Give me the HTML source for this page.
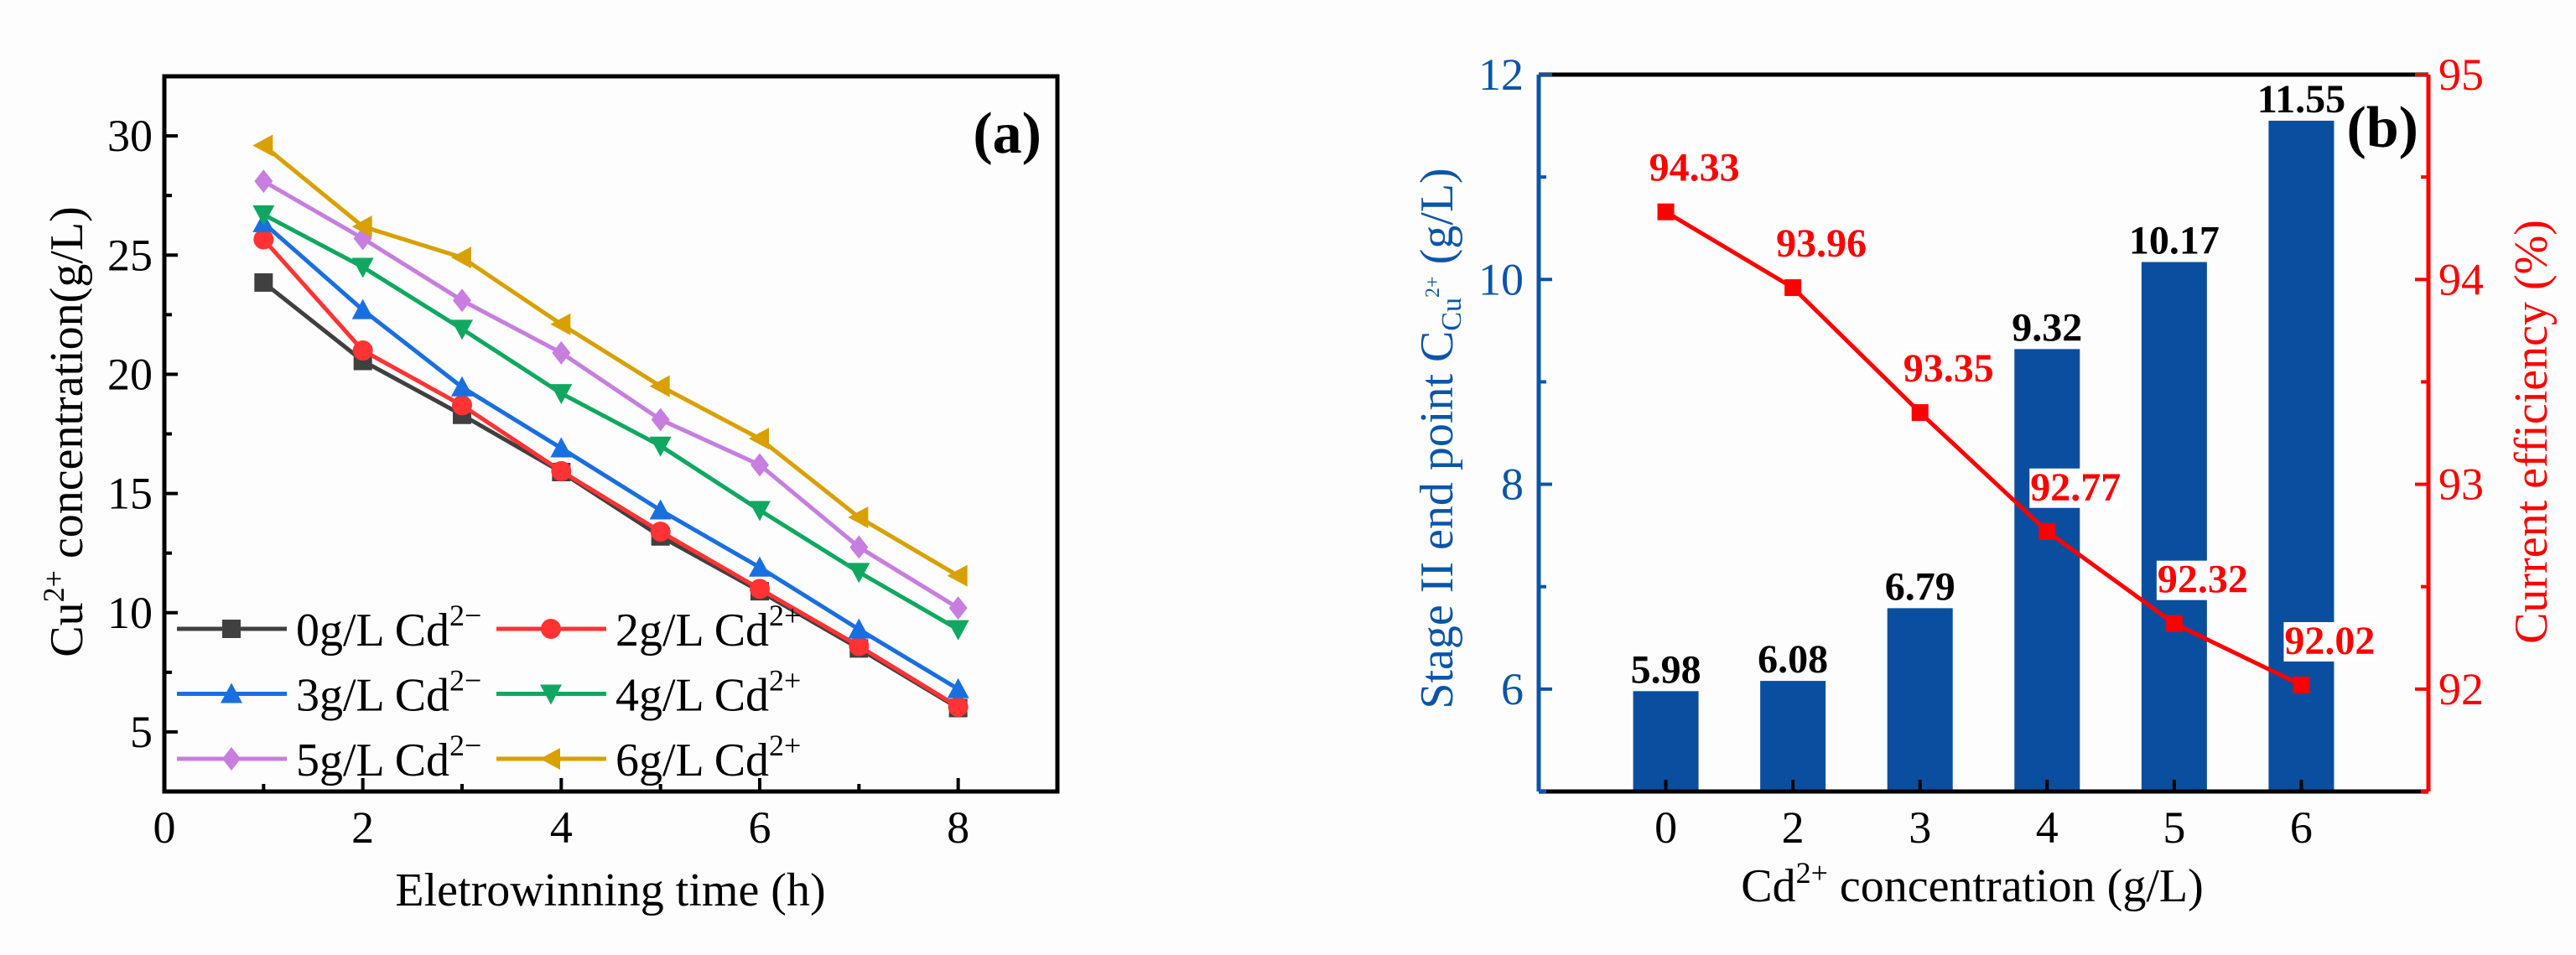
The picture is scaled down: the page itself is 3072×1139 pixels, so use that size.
<!DOCTYPE html>
<html><head><meta charset="utf-8"><style>
html,body{margin:0;padding:0;background:#fdfdfd;}
svg{display:block;font-family:"Liberation Serif",serif;}
</style></head><body>
<svg id="fig" width="3072" height="1139" viewBox="0 0 3072 1139" xmlns="http://www.w3.org/2000/svg">
<rect width="3072" height="1139" fill="#fdfdfd"/>
<g id="A"></g>
<g id="B"></g>
</svg>
<script>
// ---- Chart A data ----
const timesA = [1,2,3,4,5,6,7,8];
const s0 = [23.85,20.56,18.3,15.9,13.2,10.9,8.5,6.0];
const s2 = [25.66,21.0,18.7,15.94,13.4,11.0,8.6,6.05];
const s3 = [26.35,22.7,19.46,16.9,14.3,11.9,9.3,6.8];
const s4 = [26.7,24.5,21.9,19.2,17.0,14.3,11.7,9.3];
const s5 = [28.1,25.7,23.1,20.9,18.1,16.2,12.75,10.2];
const s6 = [29.6,26.2,24.9,22.1,19.5,17.3,14.0,11.55];
const xTicksA = [0,2,4,6,8];
const yTicksA = [5,10,15,20,25,30];
// ---- Chart B data ----
const catsB = ['0','2','3','4','5','6'];
const barsB = [5.98,6.08,6.79,9.32,10.17,11.55];
const barLabelsB = ['5.98','6.08','6.79','9.32','10.17','11.55'];
const effB = [94.33,93.96,93.35,92.77,92.32,92.02];
const effLabelsB = ['94.33','93.96','93.35','92.77','92.32','92.02'];
const yTicksBL = [6,8,10,12];
const yTicksBR = [92,93,94,95];

const NS='http://www.w3.org/2000/svg';
function mk(parent,tag,attrs,text){const e=document.createElementNS(NS,tag);for(const k in attrs)e.setAttribute(k,attrs[k]);if(text!==undefined)e.textContent=text;parent.appendChild(e);return e;}

// ===== Chart A =====
const A=document.getElementById('A');
const aL=196,aR=1261,aT=91,aB=944;
const ax=v=>aL+(v-0)/(9-0)*(aR-aL);
const ay=v=>aB-(v-2.5)/(32.5-2.5)*(aB-aT);
// ticks
for(let v=1;v<=8;v++){const major=v%2===0;const t=mk(A,'line',{x1:ax(v),x2:ax(v),y1:aB,y2:aB-(major?16:9),stroke:'#000','stroke-width':4});

}
for(let v=5;v<=32.5;v+=2.5){const major=v%5===0;const t=mk(A,'line',{x1:aL,x2:aL+(major?16:9),y1:ay(v),y2:ay(v),stroke:'#000','stroke-width':4});

}
xTicksA.forEach(v=>{const t=mk(A,'text',{x:ax(v),y:1005,'font-size':54,'text-anchor':'middle'},String(v));

});
yTicksA.forEach(v=>{const t=mk(A,'text',{x:aL-14,y:ay(v)+18,'font-size':54,'text-anchor':'end'},String(v));

});
const seriesA=[
 {d:s0,c:'#404040',m:'sq',lab:'0g/L Cd',sup:'2−'},
 {d:s2,c:'#ff3333',m:'ci',lab:'2g/L Cd',sup:'2+'},
 {d:s3,c:'#1a6fe0',m:'tu',lab:'3g/L Cd',sup:'2−'},
 {d:s4,c:'#10a860',m:'td',lab:'4g/L Cd',sup:'2+'},
 {d:s5,c:'#c77ee0',m:'di',lab:'5g/L Cd',sup:'2−'},
 {d:s6,c:'#d9a000',m:'tl',lab:'6g/L Cd',sup:'2+'}];
function marker(g,type,x,y,c){
 const r=11;let e;
 if(type==='sq')e=mk(g,'rect',{x:x-r,y:y-r,width:2*r,height:2*r,fill:c});
 else if(type==='ci')e=mk(g,'circle',{cx:x,cy:y,r:r+1,fill:c});
 else if(type==='tu')e=mk(g,'polygon',{points:`${x},${y-r-2} ${x-r-2},${y+r} ${x+r+2},${y+r}`,fill:c});
 else if(type==='td')e=mk(g,'polygon',{points:`${x},${y+r+2} ${x-r-2},${y-r} ${x+r+2},${y-r}`,fill:c});
 else if(type==='di')e=mk(g,'polygon',{points:`${x},${y-r-3} ${x-r},${y} ${x},${y+r+3} ${x+r},${y}`,fill:c});
 else e=mk(g,'polygon',{points:`${x-r-2},${y} ${x+r},${y-r-2} ${x+r},${y+r+2}`,fill:c});
 
 
}
seriesA.forEach((s,i)=>{
 const g=mk(A,'g',{});
 
 
 const pl=mk(g,'polyline',{points:s.d.map((v,j)=>ax(timesA[j])+','+ay(v)).join(' '),fill:'none',stroke:s.c,'stroke-width':5});
 
 
 s.d.forEach((v,j)=>marker(g,s.m,ax(timesA[j]),ay(v),s.c));
 // legend
 const col=i%2,row=Math.floor(i/2);
 const lx=col?592:211, ly=750+row*77.5;
 const lg=mk(A,'g',{});
 
 
 mk(lg,'line',{x1:lx,x2:lx+131,y1:ly,y2:ly,stroke:s.c,'stroke-width':5});
 marker(lg,s.m,lx+65,ly,s.c);
 const t=mk(lg,'text',{x:lx+142,y:ly+20,'font-size':56});
 t.textContent=s.lab;
 mk(t,'tspan',{dy:-24,'font-size':36},s.sup);
});
mk(A,'rect',{x:aL,y:aT,width:aR-aL,height:aB-aT,fill:'none',stroke:'#000','stroke-width':5,});
mk(A,'text',{x:1242,y:182,'font-size':70,'font-weight':'bold','text-anchor':'end',},'(a)');
mk(A,'text',{x:728,y:1080,'font-size':56,'text-anchor':'middle',},'Eletrowinning time (h)');
const yt=mk(A,'text',{x:0,y:0,'font-size':56,'text-anchor':'middle',transform:'translate(98,515) rotate(-90)',});
yt.textContent='Cu';mk(yt,'tspan',{dy:-22,'font-size':36},'2+');mk(yt,'tspan',{dy:22},' concentration(g/L)');

// ===== Chart B =====
const B=document.getElementById('B');
const bL=1835,bR=2896,bT=89,bB=944;
const bx=i=>bL+(i+1)/7*(bR-bL);
const byL=v=>bB-(v-5)/(12-5)*(bB-bT);
const byR=v=>bB-(v-91.5)/(95-91.5)*(bB-bT);
const blue='#0a4f9f', axBlue='#0b55a8', red='#ff0000';
barsB.forEach((v,i)=>{
 const r=mk(B,'rect',{x:bx(i)-39,y:byL(v),width:78,height:bB-byL(v),fill:blue});
 
 
 const t=mk(B,'text',{x:bx(i),y:byL(v)-10,'font-size':48,'font-weight':'bold','text-anchor':'middle'},barLabelsB[i]);
 
 
});
const line=mk(B,'polyline',{points:effB.map((v,i)=>bx(i)+','+byR(v)).join(' '),fill:'none',stroke:red,'stroke-width':5});


effB.forEach((v,i)=>{
 const m=mk(B,'rect',{x:bx(i)-10,y:byR(v)-10,width:20,height:20,fill:red});
 
 
 const bg=mk(B,'rect',{x:bx(i)+34-55,y:byR(v)-75,width:110,height:47,fill:'#ffffff'});
 
 
 const t=mk(B,'text',{x:bx(i)+34,y:byR(v)-37,'font-size':48,'font-weight':'bold','text-anchor':'middle',fill:red},effLabelsB[i]);
 
 
});
// frame
mk(B,'line',{x1:bL,x2:bR,y1:bT,y2:bT,stroke:'#000','stroke-width':5,});
mk(B,'line',{x1:bL,x2:bR,y1:bB,y2:bB,stroke:'#000','stroke-width':5,});
mk(B,'line',{x1:bL,x2:bL,y1:bT,y2:bB,stroke:axBlue,'stroke-width':5,});
mk(B,'line',{x1:bR,x2:bR,y1:bT,y2:bB,stroke:red,'stroke-width':5,});
catsB.forEach((c,i)=>{
 const tk=mk(B,'line',{x1:bx(i),x2:bx(i),y1:bB,y2:bB-14,stroke:'#000','stroke-width':4});
 
 
 const t=mk(B,'text',{x:bx(i),y:1005,'font-size':54,'text-anchor':'middle'},c);
 
 
});
for(let v=5;v<=12;v++){const major=v%2===0;const t=mk(B,'line',{x1:bL,x2:bL+(major?16:9),y1:byL(v),y2:byL(v),stroke:axBlue,'stroke-width':4});

}
yTicksBL.forEach(v=>{const t=mk(B,'text',{x:bL-18,y:byL(v)+18,'font-size':54,'text-anchor':'end',fill:axBlue},String(v));

});
for(let v=91.5;v<=95;v+=0.5){const major=v%1===0;const t=mk(B,'line',{x1:bR,x2:bR-(major?16:9),y1:byR(v),y2:byR(v),stroke:red,'stroke-width':4});

}
yTicksBR.forEach(v=>{const t=mk(B,'text',{x:bR+12,y:byR(v)+18,'font-size':54,fill:red},String(v));

});
mk(B,'text',{x:2884,y:175,'font-size':70,'font-weight':'bold','text-anchor':'end',},'(b)');
const xtb=mk(B,'text',{x:2352,y:1075,'font-size':56,'text-anchor':'middle',});
xtb.textContent='Cd';mk(xtb,'tspan',{dy:-22,'font-size':36},'2+');mk(xtb,'tspan',{dy:22},' concentration (g/L)');
const ytl=mk(B,'text',{x:0,y:0,'font-size':56,'text-anchor':'middle',fill:axBlue,transform:'translate(1732,523) rotate(-90)',});
ytl.textContent='Stage II end point C';mk(ytl,'tspan',{dy:10,'font-size':34},'Cu');mk(ytl,'tspan',{dy:-26,'font-size':24},'2+');mk(ytl,'tspan',{dy:16},' (g/L)');
mk(B,'text',{x:0,y:0,'font-size':56,'text-anchor':'middle',fill:red,transform:'translate(3037,515) rotate(-90)',},'Current efficiency (%)');
</script>
</body></html>
